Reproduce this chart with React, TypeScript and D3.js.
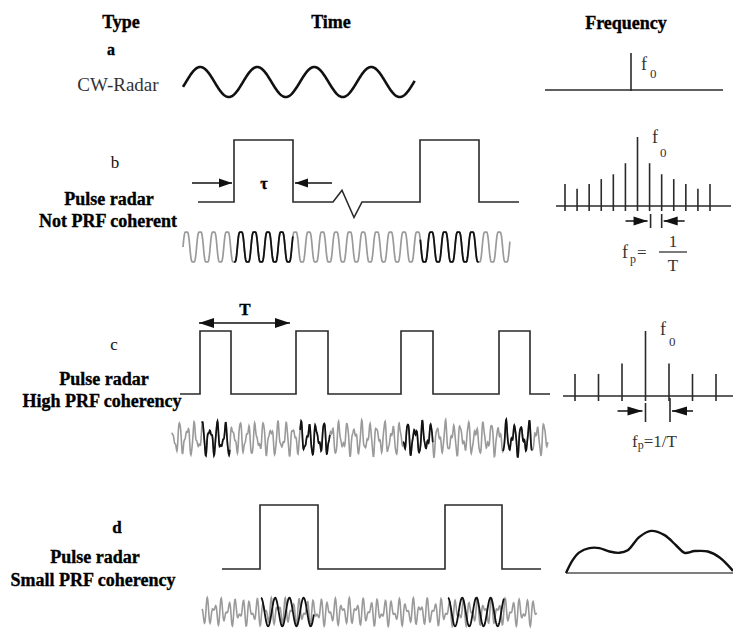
import * as d3 from 'd3';
import React from 'react';

const W = 733;
const H = 630;
const SERIF = 'Liberation Serif';

// ---- data (time units: shared time axis, freq units: harmonic index) ----
const cwSpan = [13, 245];
const cwPeriod = [57];
const cwPhase = [16];

const pulseSpanB = [28, 349];
const pulsesB = [
  [64, 123],
  [250, 309],
];
const glitchB = [
  [163, 0],
  [172, 0.19],
  [184, -0.25],
  [192, 0],
];
const pulseSpanC = [10, 380];
const pulsesC = [
  [30, 61],
  [126, 158],
  [231, 263],
  [329, 360],
];
const pulseSpanD = [52, 371];
const pulsesD = [
  [90, 148],
  [275, 332],
];

const carrierSpanB = [13, 340];
const carrierSpanC = [2, 378];
const carrierSpanD = [32, 367];
const echoC = [
  [32, 60],
  [130, 160],
  [233, 263],
  [333, 362],
];
const echoD = [
  [91, 144],
  [278, 334],
];
const carrierPeriods = [13.6, 7.6, 14.2];

const specAmpA = [1];
const harmonicsB = d3.range(-6, 7);
const specAmpB = [0.32, 0.25, 0.32, 0.39, 0.46, 0.62, 1, 0.62, 0.46, 0.39, 0.32, 0.25, 0.32];
const harmonicsC = d3.range(-3, 4);
const specAmpC = [0.34, 0.34, 0.5, 1, 0.5, 0.34, 0.34];
const specD = [
  [0, 0],
  [0.04, 0.3],
  [0.08, 0.48],
  [0.14, 0.58],
  [0.2, 0.58],
  [0.26, 0.5],
  [0.32, 0.47],
  [0.37, 0.53],
  [0.44, 0.84],
  [0.51, 0.98],
  [0.59, 0.88],
  [0.66, 0.64],
  [0.71, 0.47],
  [0.77, 0.51],
  [0.85, 0.5],
  [0.92, 0.36],
  [1, 0.05],
];

// ---- scales ----
const timeX = d3.scaleLinear().domain([0, 390]).range([170, 560]);

const yPulseB = d3.scaleLinear().domain([0, 1]).range([202, 140]);
const yPulseC = d3.scaleLinear().domain([0, 1]).range([394, 331]);
const yPulseD = d3.scaleLinear().domain([0, 1]).range([569, 505]);
const yCw = d3.scaleLinear().domain([-1, 1]).range([97, 67]);
const yCarB = d3.scaleLinear().domain([-1, 1]).range([266, 228]);
const yCarC = d3.scaleLinear().domain([-1, 1]).range([457, 420]);
const yCarD = d3.scaleLinear().domain([-1, 1]).range([627, 597]);

const freqA = d3.scaleLinear().domain([-1, 1]).range([539, 723]);
const freqB = d3.scaleLinear().domain([-6, 6]).range([565, 710]);
const freqC = d3.scaleLinear().domain([-3, 3]).range([575, 716]);
const freqD = d3.scaleLinear().domain([0, 1]).range([566, 733]);
const ampA = d3.scaleLinear().domain([0, 1]).range([90, 53]);
const ampB = d3.scaleLinear().domain([0, 1]).range([206, 137]);
const ampC = d3.scaleLinear().domain([0, 1]).range([396, 331]);
const ampD = d3.scaleLinear().domain([0, 1]).range([573, 530]);

const TAU = Math.PI * 2;

const pulsePoints = (span: number[], pulses: number[][], glitch: number[][] = []) => {
  const pts: [number, number][] = [[span[0], 0]];
  const events: [number, number][][] = pulses.map(([s, e]) => [
    [s, 0],
    [s, 1],
    [e, 1],
    [e, 0],
  ]);
  if (glitch.length) events.push(glitch as [number, number][]);
  events.sort((a, b) => a[0][0] - b[0][0]).forEach(ev => pts.push(...ev));
  pts.push([span[1], 0]);
  return pts;
};

const sample = (t0: number, t1: number, fn: (t: number) => number) =>
  d3.range(t0, t1 + 0.001, 0.35).map(t => [t, fn(t)] as [number, number]);

const waveB = (t: number) => {
  const p = (TAU * (t - 13)) / carrierPeriods[0];
  return 0.9 * Math.sin(p) + 0.12 * Math.sin(3 * p);
};
const waveC = (t: number) => {
  const p = (TAU * t) / carrierPeriods[1];
  return 0.62 * Math.sin(p) + 0.3 * Math.sin(1.63 * p + 1.1) + 0.12 * Math.sin(2.9 * p);
};
const waveDGray = (t: number) => {
  const p = (TAU * t) / 7.1;
  return 0.55 * Math.sin(p) + 0.4 * Math.sin(1.55 * p + 0.7);
};
const waveDDark = (t: number) => Math.sin((TAU * (t - 91)) / carrierPeriods[2] + Math.PI / 2) * 0.95;

const Arrow = ({ x1, x2, y, head = 13, hw = 4.5, both = false, w = 1.5 }: any) => {
  const dir = Math.sign(x2 - x1);
  const tri = (tip: number, d: number) =>
    `M${tip},${y}L${tip - d * head},${y - hw}L${tip - d * head},${y + hw}Z`;
  return (
    <g>
      <line x1={x1} x2={x2} y1={y} y2={y} stroke="#111" strokeWidth={w} />
      <path d={tri(x2, dir)} fill="#111" />
      {both && <path d={tri(x1, -dir)} fill="#111" />}
    </g>
  );
};

const App = () => {
  const lineT = (ys: d3.ScaleLinear<number, number>) =>
    d3
      .line<[number, number]>()
      .x(d => timeX(d[0]))
      .y(d => ys(d[1]));

  const cw = sample(cwSpan[0], cwSpan[1], t => Math.sin((TAU * (t - cwPhase[0])) / cwPeriod[0]));
  const carB = sample(carrierSpanB[0], carrierSpanB[1], waveB);
  const carC = sample(carrierSpanC[0], carrierSpanC[1], waveC);
  const carD = sample(carrierSpanD[0], carrierSpanD[1], waveDGray);

  const specDLine = d3
    .line<number[]>()
    .x(d => freqD(d[0]))
    .y(d => ampD(d[1]))
    .curve(d3.curveCatmullRom.alpha(0.5));

  const bold = {
    fontFamily: SERIF,
    fontWeight: 700,
    fill: '#000',
    stroke: '#000',
    strokeWidth: 0.35,
  } as const;
  const plain = { fontFamily: SERIF, fill: '#333' } as const;
  const pulseStroke = { fill: 'none', stroke: '#2a2a2a', strokeWidth: 1.6 } as const;
  const specStroke = { stroke: '#2a2a2a', strokeWidth: 1.6 } as const;

  return (
    <svg
      width={W}
      height={H}
      style={{ position: 'absolute', left: 0, top: 0, background: '#fff' }}
    >
      {/* headers */}
      <text x={121} y={28} textAnchor="middle" fontSize={18} {...bold}>
        Type
      </text>
      <text x={331} y={28} textAnchor="middle" fontSize={18} {...bold}>
        Time
      </text>
      <text x={626} y={29} textAnchor="middle" fontSize={18} {...bold}>
        Frequency
      </text>

      {/* type labels */}
      <text x={111} y={55} textAnchor="middle" fontSize={16} {...bold}>
        a
      </text>
      <text x={118} y={91} textAnchor="middle" fontSize={19} {...plain}>
        CW-Radar
      </text>
      <text x={115} y={168} textAnchor="middle" fontSize={17} {...plain} fill="#111">
        b
      </text>
      <text x={109} y={205} textAnchor="middle" fontSize={18} {...bold}>
        Pulse radar
      </text>
      <text x={108} y={227} textAnchor="middle" fontSize={18} {...bold}>
        Not PRF coherent
      </text>
      <text x={114} y={350} textAnchor="middle" fontSize={17} {...plain} fill="#111">
        c
      </text>
      <text x={104} y={385} textAnchor="middle" fontSize={18} {...bold}>
        Pulse radar
      </text>
      <text x={102} y={407} textAnchor="middle" fontSize={18} {...bold}>
        High PRF coherency
      </text>
      <text x={117} y={533} textAnchor="middle" fontSize={17} {...bold}>
        d
      </text>
      <text x={95} y={563} textAnchor="middle" fontSize={18} {...bold}>
        Pulse radar
      </text>
      <text x={93} y={586} textAnchor="middle" fontSize={18} {...bold}>
        Small PRF coherency
      </text>

      {/* a: continuous wave */}
      <path d={lineT(yCw)(cw) ?? ''} fill="none" stroke="#111" strokeWidth={2.6} />
      <line x1={545} x2={723} y1={ampA(0)} y2={ampA(0)} {...specStroke} />
      {specAmpA.map((a, i) => (
        <line key={i} x1={freqA(0)} x2={freqA(0)} y1={ampA(0) + 1} y2={ampA(a)} {...specStroke} />
      ))}
      <text x={641} y={70} fontSize={18} {...plain}>
        f
      </text>
      <text x={650} y={78} fontSize={13} {...plain}>
        0
      </text>

      {/* b: pulse radar, not coherent */}
      <path d={lineT(yPulseB)(pulsePoints(pulseSpanB, pulsesB, glitchB)) ?? ''} {...pulseStroke} />
      <Arrow x1={timeX(22)} x2={timeX(62)} y={183} />
      <Arrow x1={timeX(162)} x2={timeX(125)} y={183} />
      <text x={264} y={189} textAnchor="middle" fontSize={16} {...bold}>
        τ
      </text>
      <path d={lineT(yCarB)(carB) ?? ''} fill="none" stroke="#9a9a9a" strokeWidth={1.7} />
      {pulsesB.map(([s, e], i) => (
        <path
          key={i}
          d={lineT(yCarB)(carB.filter(d => d[0] >= s && d[0] <= e)) ?? ''}
          fill="none"
          stroke="#111"
          strokeWidth={1.8}
        />
      ))}
      <line x1={556} x2={731} y1={ampB(0)} y2={ampB(0)} {...specStroke} />
      {harmonicsB.map((k, i) => (
        <line key={k} x1={freqB(k)} x2={freqB(k)} y1={ampB(0) + 5} y2={ampB(specAmpB[i])} {...specStroke} />
      ))}
      <text x={652} y={143} fontSize={18} {...plain}>
        f
      </text>
      <text x={660} y={157} fontSize={13} {...plain}>
        0
      </text>
      <Arrow x1={freqB(0) - 12} x2={freqB(1) - 2} y={221} head={14} hw={4.5} />
      <line x1={freqB(1) + 1} x2={freqB(1) + 1} y1={214} y2={228} {...specStroke} />
      <line x1={freqB(2)} x2={freqB(2)} y1={214} y2={228} {...specStroke} />
      <Arrow x1={freqB(2) + 23} x2={freqB(2) + 2} y={221} head={14} hw={4.5} />
      <text x={622} y={258} fontSize={18} {...plain}>
        f
      </text>
      <text x={630} y={263} fontSize={12} {...plain}>
        p
      </text>
      <text x={637} y={258} fontSize={17} {...plain}>
        =
      </text>
      <text x={673} y={247} textAnchor="middle" fontSize={17} {...plain}>
        1
      </text>
      <line x1={659} x2={687} y1={252} y2={252} stroke="#333" strokeWidth={1.3} />
      <text x={673} y={271} textAnchor="middle" fontSize={17} {...plain}>
        T
      </text>

      {/* c: pulse radar, high PRF coherency */}
      <path d={lineT(yPulseC)(pulsePoints(pulseSpanC, pulsesC)) ?? ''} {...pulseStroke} />
      <Arrow x1={timeX(29)} x2={timeX(120)} y={323} head={15} hw={5} both />
      <text x={245} y={315} textAnchor="middle" fontSize={17} {...bold}>
        T
      </text>
      <path d={lineT(yCarC)(carC) ?? ''} fill="none" stroke="#9a9a9a" strokeWidth={1.6} />
      {echoC.map(([s, e], i) => (
        <path
          key={i}
          d={lineT(yCarC)(carC.filter(d => d[0] >= s && d[0] <= e)) ?? ''}
          fill="none"
          stroke="#111"
          strokeWidth={1.7}
        />
      ))}
      <line x1={563} x2={733} y1={ampC(0)} y2={ampC(0)} {...specStroke} />
      {harmonicsC.map((k, i) => (
        <line key={k} x1={freqC(k)} x2={freqC(k)} y1={ampC(0) + 5} y2={ampC(specAmpC[i])} {...specStroke} />
      ))}
      <text x={660} y={335} fontSize={18} {...plain}>
        f
      </text>
      <text x={669} y={346} fontSize={13} {...plain}>
        0
      </text>
      <Arrow x1={freqC(0) - 28} x2={freqC(0) - 3} y={411} head={15} hw={4.5} />
      <line x1={freqC(0)} x2={freqC(0)} y1={403} y2={422} {...specStroke} />
      <line x1={freqC(1) + 1} x2={freqC(1) + 1} y1={398} y2={422} {...specStroke} />
      <Arrow x1={freqC(1) + 24} x2={freqC(1) + 3} y={411} head={15} hw={4.5} />
      <text x={632} y={447} fontSize={17} {...plain}>
        f
        <tspan fontSize={12} dy={2}>
          p
        </tspan>
        <tspan dy={-2}>=1/T</tspan>
      </text>

      {/* d: pulse radar, small PRF coherency */}
      <path d={lineT(yPulseD)(pulsePoints(pulseSpanD, pulsesD)) ?? ''} {...pulseStroke} />
      <path d={lineT(yCarD)(carD) ?? ''} fill="none" stroke="#9a9a9a" strokeWidth={1.6} />
      {echoD.map(([s, e], i) => (
        <path
          key={i}
          d={lineT(yCarD)(sample(s, e, t => waveDDark(t - (i ? 187 : 0)))) ?? ''}
          fill="none"
          stroke="#111"
          strokeWidth={1.8}
        />
      ))}
      <line x1={566} x2={733} y1={ampD(0)} y2={ampD(0)} stroke="#555" strokeWidth={1.3} />
      <path d={specDLine(specD) ?? ''} fill="none" stroke="#111" strokeWidth={2.4} />
    </svg>
  );
};

export default App;
